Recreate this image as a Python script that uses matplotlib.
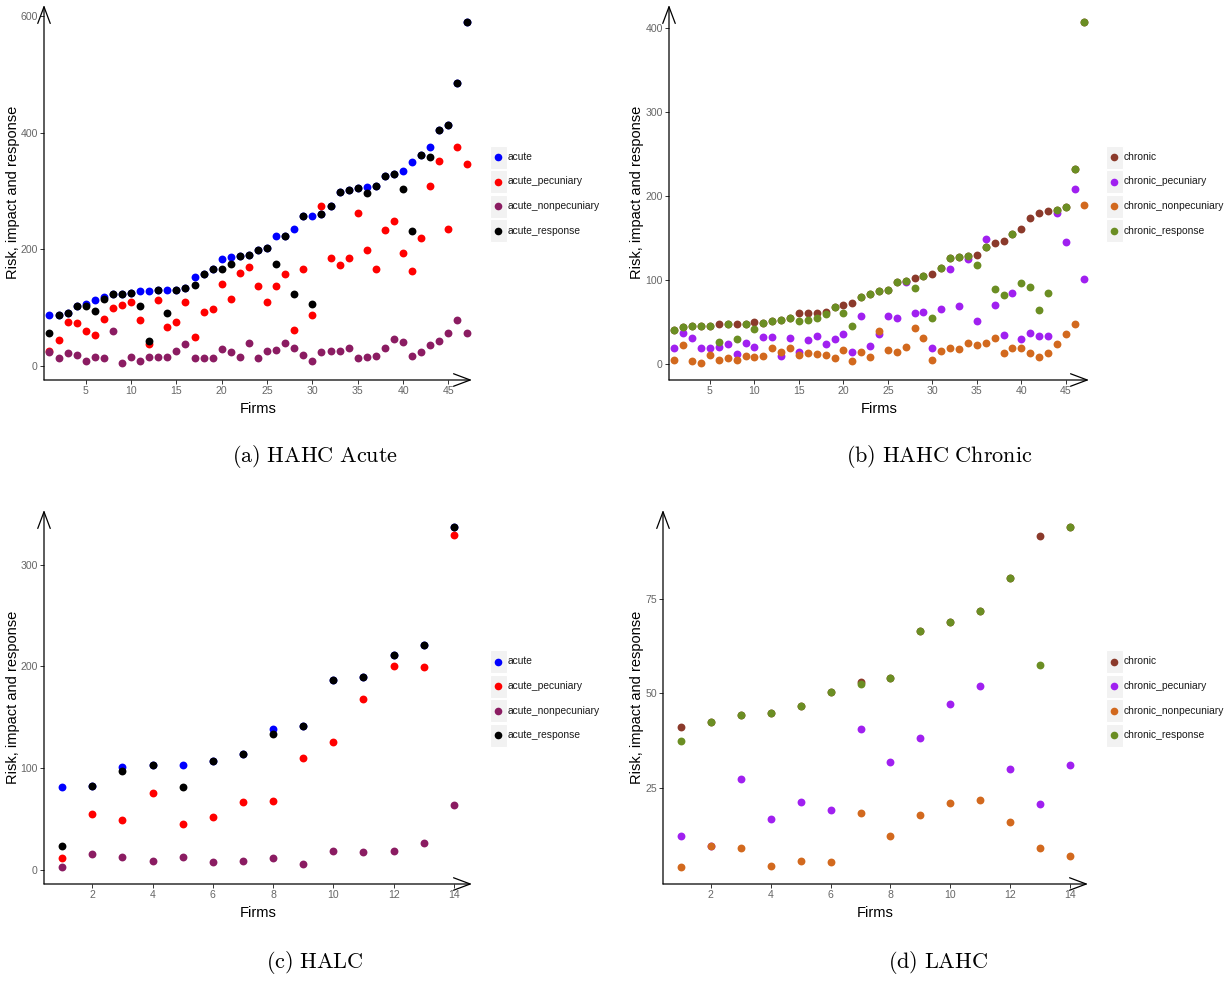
import matplotlib
matplotlib.use("Agg")
import matplotlib.pyplot as plt
from matplotlib.patches import Rectangle
from matplotlib.lines import Line2D

plt.rcParams['font.family'] = ['Liberation Sans', 'DejaVu Sans']
plt.rcParams['mathtext.fontset'] = 'cm'

W, H = 1228, 981

# ---- data: HAHC acute (47 firms) ----
acute_labels = ['acute', 'acute_pecuniary', 'acute_nonpecuniary', 'acute_response']
acute_colors = ['#0000FF', '#FF0000', '#8B1C62', '#000000']
chronic_labels = ['chronic', 'chronic_pecuniary', 'chronic_nonpecuniary', 'chronic_response']
chronic_colors = ['#8B3A2B', '#A020F0', '#D2691E', '#6B8E23']

hahc_acute = [87, 87, 91, 102, 106, 113, 118, 123, 123, 125, 128, 128, 130, 130, 131, 133,
              153, 157, 167, 184, 186, 189, 190, 198, 203, 222, 222, 235, 257, 257, 260, 274,
              298, 301, 306, 307, 309, 326, 330, 335, 350, 361, 375, 405, 414, 485, 590]
hahc_acute_pec = [26, 45, 76, 74, 60, 53, 81, 100, 105, 110, 78, 37, 113, 67, 75, 109,
                  50, 93, 97, 140, 115, 160, 170, 137, 109, 137, 157, 62, 166, 87, 274, 185,
                  173, 185, 262, 198, 167, 234, 248, 193, 162, 219, 309, 351, 235, 376, 346]
hahc_acute_nonpec = [23, 14, 22, 19, 9, 16, 13, 60, 5, 15, 9, 15, 15, 15, 25, 37,
                     14, 14, 14, 29, 24, 15, 39, 14, 25, 27, 39, 30, 19, 9, 23, 25,
                     25, 30, 13, 15, 17, 31, 46, 41, 17, 23, 35, 42, 57, 78, 57]
hahc_acute_resp = [57, 87, 91, 102, 103, 95, 114, 123, 123, 125, 102, 42, 130, 90, 131, 133,
                   139, 157, 167, 167, 174, 189, 190, 198, 203, 174, 222, 123, 257, 107, 260, 274,
                   298, 301, 306, 296, 309, 326, 330, 303, 231, 361, 358, 405, 414, 485, 590]

# ---- data: HAHC chronic (47 firms) ----
hahc_chronic = [40, 43.5, 45, 45, 45.5, 47.5, 47.5, 47.5, 47.5, 49.5, 48.7, 51, 52, 55, 60, 60,
                60.5, 62, 68, 70, 72, 80, 83.5, 87, 88, 97.8, 99, 101.7, 104, 106.5, 114.4, 125.5,
                127.5, 127.9, 129, 138.6, 143.7, 146, 154.8, 161, 173.4, 179.7, 182, 183.7, 186.9, 231.6, 407]
hahc_chronic_pec = [19, 37, 31, 19, 19, 20, 24, 11.5, 25, 20, 32.5, 32.5, 9, 31, 14, 28,
                    33.6, 24, 30, 36, 14, 57.4, 21.5, 36, 57.4, 54.6, 97.4, 61, 62, 18.6, 65.7, 112.8,
                    68.5, 124.7, 51, 148.9, 69.7, 34.8, 84.3, 29.7, 36.4, 33.6, 33.6, 180, 144.9, 207.8, 100.5]
hahc_chronic_nonpec = [5, 22.6, 3, 1, 10, 5, 7, 4, 9, 8, 9, 19, 14, 19, 10, 12.7,
                       11.5, 10, 7, 16.6, 3, 14, 8, 38.6, 16.6, 13.9, 20, 42.4, 31.3, 4, 15, 19,
                       17.4, 25, 22.6, 25, 31.3, 12.7, 19, 19, 12.7, 8, 12.7, 23.8, 36, 47.5, 189.6]
hahc_chronic_resp = [40, 43.5, 45, 45, 45.5, 26.5, 47.5, 29, 47.5, 42, 48.7, 51, 52, 55, 51, 52,
                     55, 59, 68, 60.5, 45, 80, 83.5, 87, 88, 97.8, 99, 90.7, 104, 54.6, 114.4, 125.5,
                     127.5, 127.9, 118, 138.6, 89.5, 82, 154.8, 95.8, 91.8, 64.5, 84.3, 183.7, 186.9, 231.6, 407]

# ---- data: HALC (14 firms) ----
halc_acute = [81.8, 82.4, 101, 103, 103, 106.8, 114.3, 139, 141.4, 186.3, 189.6, 211.7, 220.8, 336.8]
halc_acute_pec = [12.4, 55, 49.8, 76.2, 45, 52, 67.4, 68.4, 110, 126.4, 168, 200.6, 199.7, 329]
halc_acute_nonpec = [3.3, 16.3, 13.4, 9.4, 13.4, 8.1, 9.4, 12.4, 6.2, 18.6, 17.6, 18.6, 26.7, 64.5]
halc_acute_resp = [23.5, 82.4, 97.7, 103, 81.8, 106.8, 114.3, 134.2, 141.4, 186.3, 189.6, 211.7, 220.8, 336.8]

# ---- data: LAHC (14 firms) ----
lahc_chronic = [41.1, 42.5, 44.4, 44.9, 46.8, 50.4, 53, 54.2, 66.6, 69, 71.8, 80.5, 91.6, 94]
lahc_chronic_pec = [12.3, 9.6, 27.4, 16.9, 21.3, 19.1, 40.5, 31.8, 38.3, 47.1, 52, 30.1, 20.8, 31]
lahc_chronic_nonpec = [4.1, 9.6, 9.0, 4.4, 5.8, 5.3, 18.3, 12.3, 17.8, 21.1, 21.9, 16.1, 9.0, 7.1]
lahc_chronic_resp = [37.5, 42.5, 44.4, 44.9, 46.8, 50.4, 52.6, 54.2, 66.6, 69, 71.8, 80.5, 57.5, 94]


def px_rect(left, top, right, bottom):
    return [left / W, 1 - bottom / H, (right - left) / W, (bottom - top) / H]


def draw_panel(fig, box, series, colors, xticks, yticks, ylab_x):
    left, top, right, bottom = box
    ax = fig.add_axes(px_rect(left, top, right, bottom))
    n = len(series[0])
    firms = list(range(1, n + 1))
    for i, (vals, col) in enumerate(zip(series, colors)):
        ax.scatter(firms, vals, s=32, color=col, linewidths=0, zorder=3 + i, clip_on=False)
    lo = min(min(s) for s in series)
    hi = max(max(s) for s in series)
    pad = (hi - lo) * 0.05
    ax.set_xlim(0.4, n + 0.6)
    ax.set_ylim(lo - pad, hi + pad)
    ax.set_xticks(xticks)
    ax.set_yticks(yticks)
    for sp in ax.spines.values():
        sp.set_visible(False)
    ax.tick_params(axis='both', length=3, width=0.7, color='#333333',
                   labelcolor='#666666', labelsize=7.6, pad=1.5)
    arrow = dict(arrowstyle='->,head_length=1.2,head_width=0.45', lw=0.9,
                 color='black', shrinkA=0, shrinkB=0, mutation_scale=10)
    ax.annotate('', xy=(0, 1), xytext=(0, 0), xycoords='axes fraction',
                arrowprops=arrow, annotation_clip=False)
    ax.annotate('', xy=(1, 0), xytext=(0, 0), xycoords='axes fraction',
                arrowprops=arrow, annotation_clip=False)
    ax.set_xlabel('Firms', fontsize=10.5, labelpad=4)
    ax.set_ylabel('Risk, impact and response', fontsize=10.5)
    ax.yaxis.set_label_coords((ylab_x - left) / (right - left), 0.5)
    return ax


def draw_legend(fig, key_x, first_y, labels, colors):
    step = 24.5
    for i, (lab, col) in enumerate(zip(labels, colors)):
        cy = first_y + i * step
        fig.add_artist(Rectangle(((key_x - 8.5) / W, 1 - (cy + 11.5) / H), 17 / W, 23 / H,
                                 transform=fig.transFigure, facecolor='#F2F2F2',
                                 edgecolor='white', lw=0.8))
        fig.add_artist(Line2D([key_x / W], [1 - cy / H], marker='o', markersize=5.5,
                              color=col, markeredgewidth=0, transform=fig.transFigure))
        fig.text((key_x + 10) / W, 1 - cy / H, lab, fontsize=7.4, va='center', ha='left',
                 color='#1a1a1a')


fig = plt.figure(figsize=(W / 100, H / 100), dpi=100)

draw_panel(fig, (44, 5, 472, 380),
           [hahc_acute, hahc_acute_pec, hahc_acute_nonpec, hahc_acute_resp],
           acute_colors, [5, 10, 15, 20, 25, 30, 35, 40, 45], [0, 200, 400, 600], 20)
draw_legend(fig, 498, 157, acute_labels, acute_colors)
fig.text(315 / W, 1 - 457 / H, r'$\mathrm{(a)\ HAHC\ Acute}$', ha='center', va='center', fontsize=16)

draw_panel(fig, (669, 5, 1089, 380),
           [hahc_chronic, hahc_chronic_pec, hahc_chronic_nonpec, hahc_chronic_resp],
           chronic_colors, [5, 10, 15, 20, 25, 30, 35, 40, 45], [0, 100, 200, 300, 400], 644)
draw_legend(fig, 1114, 157, chronic_labels, chronic_colors)
fig.text(939 / W, 1 - 457 / H, r'$\mathrm{(b)\ HAHC\ Chronic}$', ha='center', va='center', fontsize=16)

draw_panel(fig, (44, 510, 472, 884),
           [halc_acute, halc_acute_pec, halc_acute_nonpec, halc_acute_resp],
           acute_colors, [2, 4, 6, 8, 10, 12, 14], [0, 100, 200, 300], 20)
draw_legend(fig, 498, 661.5, acute_labels, acute_colors)
fig.text(315 / W, 1 - 962 / H, r'$\mathrm{(c)\ HALC}$', ha='center', va='center', fontsize=16)

draw_panel(fig, (663, 510, 1088, 884),
           [lahc_chronic, lahc_chronic_pec, lahc_chronic_nonpec, lahc_chronic_resp],
           chronic_colors, [2, 4, 6, 8, 10, 12, 14], [25, 50, 75], 644)
draw_legend(fig, 1114, 661.5, chronic_labels, chronic_colors)
fig.text(938 / W, 1 - 962 / H, r'$\mathrm{(d)\ LAHC}$', ha='center', va='center', fontsize=16)

fig.savefig('out.png', dpi=100)
